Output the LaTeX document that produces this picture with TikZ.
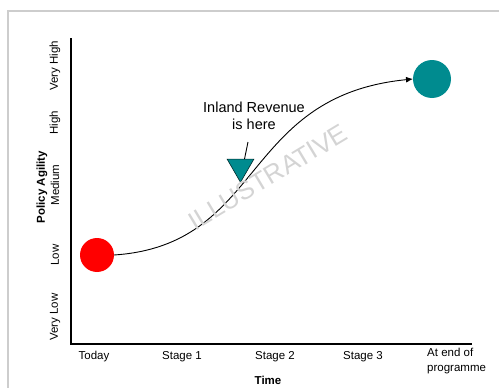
\documentclass[tikz,border=0pt]{standalone}
\usepackage{fontspec}
\setmainfont{Liberation Sans}
\usetikzlibrary{shapes.geometric,arrows.meta}
\definecolor{tealdot}{RGB}{0,139,143}
\definecolor{reddot}{RGB}{255,0,0}
\definecolor{framegray}{RGB}{205,205,205}
\definecolor{markgray}{RGB}{212,212,212}
\tikzset{
  axis/.style={line width=1.4pt, black},
  tick/.style={font=\fontsize{11.5}{15}\selectfont, inner sep=0pt, align=left},
  vtick/.style={font=\fontsize{11.5}{14}\selectfont, inner sep=0pt, rotate=90},
  axistitle/.style={font=\bfseries\fontsize{11.5}{14}\selectfont, inner sep=0pt},
  dot/.style={circle, inner sep=0pt, outer sep=0pt},
  callout/.style={font=\fontsize{14.5}{17.5}\selectfont, align=center, inner sep=0pt}
}
\begin{document}
\begin{tikzpicture}[x=1pt,y=-1pt]
\useasboundingbox (0,0) rectangle (499,388);
% outer frame
\draw[framegray, line width=1.5pt] (8,400) -- (8,11) -- (510,11);

% axes
\coordinate (ytop) at (71,38);
\coordinate (origin) at (71,344);
\coordinate (xend) at (472,344);
\draw[axis] (ytop) -- (origin) -- (xend);

% agility levels
\node[vtick] (vhigh) at (55,66) {Very High};
\node[vtick] (high) at (55,123) {High};
\node[vtick] (medium) at (55,185) {Medium};
\node[vtick] (low) at (55,255) {Low};
\node[vtick] (vlow) at (55,317) {Very Low};
\node[axistitle, rotate=90] (ytitle) at (42,187) {Policy Agility};

% time stages
\node[tick] (today) at (94,357) {Today};
\node[tick] (s1) at (182,357) {Stage 1};
\node[tick] (s2) at (275,357) {Stage 2};
\node[tick] (s3) at (363,357) {Stage 3};
\node[tick, anchor=west] (end) at (427,361) {At end of\\programme};
\node[axistitle] (xtitle) at (268,380) {Time};

% start and end positions
\node[dot, fill=reddot, minimum size=34pt] (start) at (97,255) {};
\node[dot, fill=tealdot, minimum size=38pt] (goal) at (432,79) {};

% trajectory
\draw[line width=0.9pt, -{Latex[length=7pt,width=6pt]}]
  (start.east) .. controls (265,245) and (240,96) .. (goal.west);

% current position marker
\node[regular polygon, regular polygon sides=3, shape border rotate=180,
      fill=tealdot, draw=black!70!tealdot, line width=0.6pt,
      minimum size=31pt, inner sep=0pt, outer sep=0pt] (marker) at (240.5,166.8) {};
\node[callout] (here) at (254,116) {Inland Revenue\\is here};
\coordinate (ptr) at (248,142);
\draw[line width=0.9pt] (ptr) -- ([xshift=4pt]marker.north);

% watermark
\node[markgray, rotate=31, font=\fontsize{26}{26}\selectfont, inner sep=0pt] (wm) at (268,177) {ILLUSTRATIVE};
\end{tikzpicture}
\end{document}
